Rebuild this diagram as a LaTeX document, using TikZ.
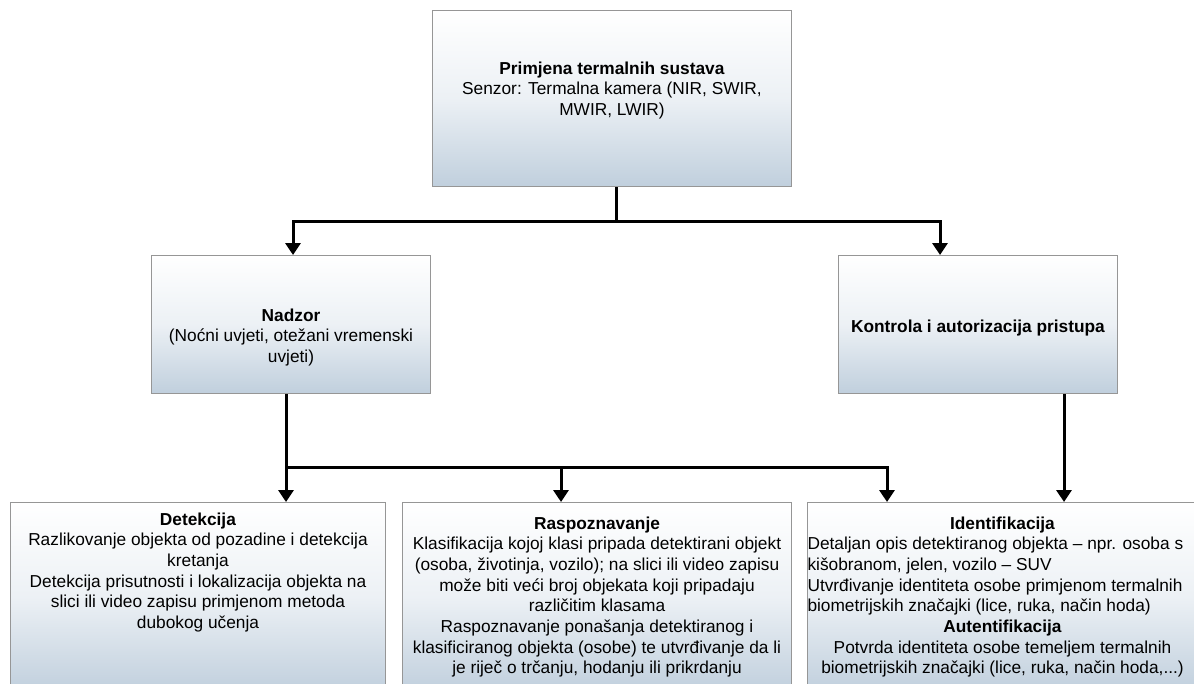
\documentclass[tikz,border=0pt]{standalone}
\usepackage{fontspec}
\setmainfont{Liberation Sans}
\usepackage{tikz}
\usetikzlibrary{arrows.meta}
\definecolor{boxblue}{RGB}{192,207,221}
\definecolor{boxline}{RGB}{150,150,150}
\newcommand{\boxtext}[4]{\parbox[c][#2pt][t]{#1pt}{\centering\vspace*{#3pt}#4}}

\begin{document}
\begin{tikzpicture}[x=1pt,y=-1pt,>={Triangle[width=15pt,length=12pt]},
  box/.style={draw=boxline,line width=1pt,top color=white,bottom color=boxblue,
    middle color=white!70!boxblue,inner sep=0pt,anchor=north west,
    font=\fontsize{17.3}{20.7}\selectfont},
  link/.style={line width=3pt,black}]
\fill[white] (0,0) rectangle (1194,683);
\useasboundingbox (0,0) rectangle (1194,683);

% boxes
\node[box] (prim) at (432,10) {\boxtext{359}{176}{51}{\textbf{Primjena termalnih sustava}\\
  Senzor: Termalna kamera (NIR, SWIR,\\MWIR, LWIR)}};
\node[box] (nad) at (151,255) {\boxtext{279}{138}{53}{\textbf{Nadzor}\\
  (Noćni uvjeti, otežani vremenski\\uvjeti)}};
\node[box] (kon) at (838,255) {\boxtext{279}{138}{64}{\textbf{Kontrola i autorizacija pristupa}}};

\node[box] (det) at (10,502) {\boxtext{375}{190}{10}{\textbf{Detekcija}\\
  Razlikovanje objekta od pozadine i detekcija\\kretanja\\
  Detekcija prisutnosti i lokalizacija objekta na\\slici ili video zapisu primjenom metoda\\dubokog učenja}};
\node[box] (ras) at (402,502) {\boxtext{389}{190}{14}{\textbf{Raspoznavanje}\\
  Klasifikacija kojoj klasi pripada detektirani objekt\\(osoba, životinja, vozilo); na slici ili video zapisu\\
  može biti veći broj objekata koji pripadaju\\različitim klasama\\
  Raspoznavanje ponašanja detektiranog i\\klasificiranog objekta (osobe) te utvrđivanje da li\\
  je riječ o trčanju, hodanju ili prikrdanju}};
\node[box] (ide) at (807,502) {\boxtext{390}{190}{14}{\textbf{Identifikacija}\par
  {\raggedright Detaljan opis detektiranog objekta – npr. osoba s\\kišobranom, jelen, vozilo – SUV\\
  Utvrđivanje identiteta osobe primjenom termalnih\\biometrijskih značajki (lice, ruka, način hoda)\par}
  \textbf{Autentifikacija}\\Potvrda identiteta osobe temeljem termalnih\\
  biometrijskih značajki (lice, ruka, način hoda,...)}};

% connectors
\coordinate (s1) at (616,221);
\coordinate (s1l) at (293,221);
\coordinate (s1r) at (940,221);
\draw[link,->] (prim.south -| s1) -- (s1) -| (nad.north -| s1l);
\draw[link,->] (s1) -| (kon.north -| s1r);

\coordinate (s2) at (286,467);
\coordinate (s2m) at (561,467);
\coordinate (s2r) at (887,467);
\coordinate (s3) at (1064,467);
\draw[link,->] (nad.south -| s2) -- (det.north -| s2);
\draw[link,->] (s2) -| (ras.north -| s2m);
\draw[link,->] (s2) -| (ide.north -| s2r);
\draw[link,->] (kon.south -| s3) -- (ide.north -| s3);
\end{tikzpicture}
\end{document}
